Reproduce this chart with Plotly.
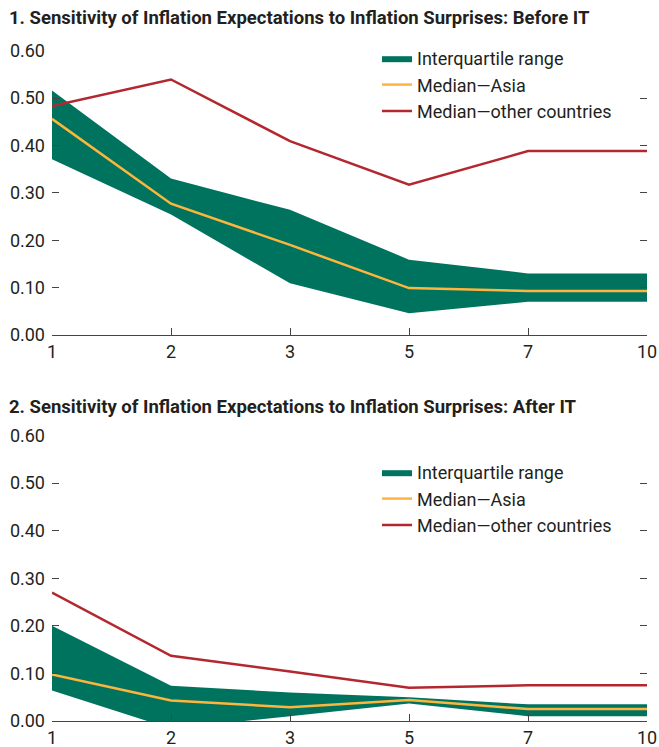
import plotly.graph_objects as go
from plotly.subplots import make_subplots

# horizons (years ahead)
horizons = ['1', '2', '3', '5', '7', '10']

# Panel 1: before IT
before_iqr_low = [0.371, 0.254, 0.109, 0.046, 0.070, 0.070]
before_iqr_high = [0.516, 0.330, 0.264, 0.159, 0.130, 0.130]
before_asia = [0.456, 0.277, 0.190, 0.099, 0.093, 0.093]
before_other = [0.483, 0.539, 0.409, 0.317, 0.388, 0.388]

# Panel 2: after IT
after_iqr_low = [0.064, -0.016, 0.010, 0.037, 0.010, 0.010]
after_iqr_high = [0.200, 0.074, 0.060, 0.050, 0.035, 0.035]
after_asia = [0.098, 0.043, 0.029, 0.044, 0.025, 0.025]
after_other = [0.270, 0.137, 0.104, 0.070, 0.075, 0.075]

yticks = [0.0, 0.1, 0.2, 0.3, 0.4, 0.5, 0.6]

GREEN = '#00735F'
YELLOW = '#FDB53E'
RED = '#B3282E'
FONT = 'Roboto, Liberation Sans, sans-serif'
TXT = '#231F20'

x = list(range(len(horizons)))

W = 659
H = 747


def py(ref_y):
    # pixel row -> paper fraction
    return (H - ref_y) / H


fig = make_subplots(rows=2, cols=1)


def add_panel(row, low, high, asia, other, legend):
    fig.add_trace(go.Scatter(x=x, y=low, mode='lines', line=dict(width=0, color=GREEN),
                             showlegend=False, hoverinfo='skip', legend=legend), row=row, col=1)
    fig.add_trace(go.Scatter(x=x, y=high, mode='lines', line=dict(width=0, color=GREEN),
                             fill='tonexty', fillcolor=GREEN, name='Interquartile range',
                             legend=legend), row=row, col=1)
    fig.add_trace(go.Scatter(x=x, y=asia, mode='lines', line=dict(width=2.5, color=YELLOW),
                             name='Median\u2014Asia', legend=legend), row=row, col=1)
    fig.add_trace(go.Scatter(x=x, y=other, mode='lines', line=dict(width=2.5, color=RED),
                             name='Median\u2014other countries', legend=legend), row=row, col=1)


add_panel(1, before_iqr_low, before_iqr_high, before_asia, before_other, 'legend')
add_panel(2, after_iqr_low, after_iqr_high, after_asia, after_other, 'legend2')

fig.update_layout(
    width=W, height=H,
    margin=dict(l=52, r=W - 647, t=0, b=0),
    paper_bgcolor='white', plot_bgcolor='white',
    font=dict(family=FONT, size=18, color=TXT),
    legend=dict(x=(377 - 52) / 595, y=py(40), xanchor='left', yanchor='top',
                traceorder='normal', bgcolor='rgba(0,0,0,0)', font=dict(size=18)),
    legend2=dict(x=(377 - 52) / 595, y=py(454), xanchor='left', yanchor='top',
                 traceorder='normal', bgcolor='rgba(0,0,0,0)', font=dict(size=18)),
    yaxis=dict(domain=[py(335), py(50.6)]),
    yaxis2=dict(domain=[py(721), py(435.6)]),
)

fig.update_xaxes(range=[0, len(horizons) - 1], tickvals=x, ticktext=horizons,
                 ticks='inside', ticklen=7, tickcolor='#444', tickwidth=1.3,
                 showline=True, linecolor='#444', linewidth=1.3, mirror=False,
                 showgrid=False, zeroline=False, automargin=False,
                 tickfont=dict(size=18, color=TXT))
fig.update_yaxes(range=[0, 0.6], tickvals=yticks, tickformat='.2f',
                 ticks='inside', ticklen=7, tickcolor='#444', tickwidth=1.3,
                 ticklabelstandoff=6,
                 showline=False, mirror='ticks', showgrid=False, zeroline=False,
                 automargin=False, tickfont=dict(size=18, color=TXT))

titles = [
    ('1. Sensitivity of Inflation Expectations to Inflation Surprises: Before IT', 18),
    ('2. Sensitivity of Inflation Expectations to Inflation Surprises: After IT', 407),
]
for text, ref_y in titles:
    fig.add_annotation(text='<b>' + text + '</b>', xref='paper', yref='paper',
                       x=(8 - 52) / 595, y=py(ref_y), xanchor='left', yanchor='middle',
                       showarrow=False, borderpad=0,
                       font=dict(family=FONT, size=18.5, color=TXT))

# drop the page's default body margin so the figure fills the window exactly
fig.write_html('out.html', config={'displayModeBar': False},
               post_script="document.body.style.margin='0px';")
